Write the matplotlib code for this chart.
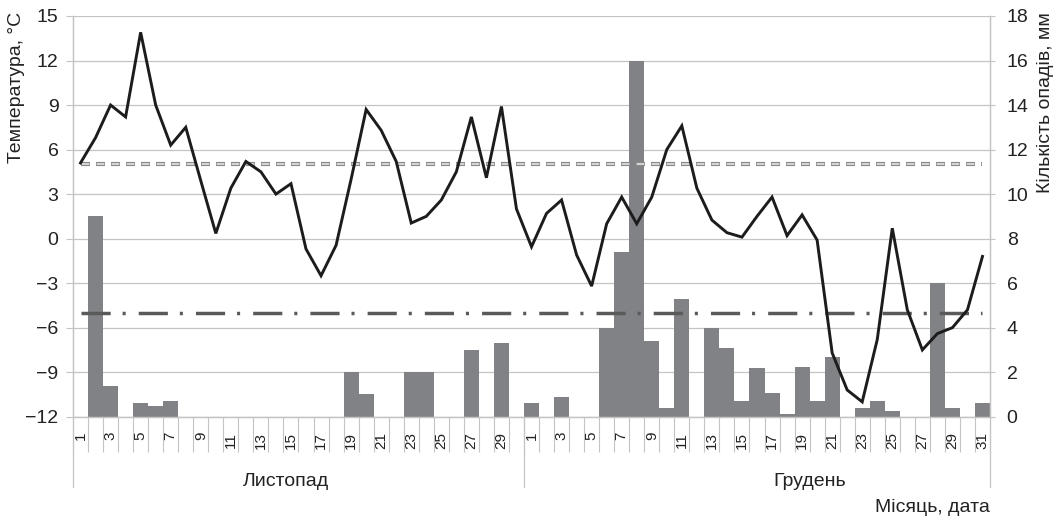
import numpy as np
import matplotlib
matplotlib.use("Agg")
import matplotlib.pyplot as plt

plt.rcParams['font.family'] = ['Liberation Sans', 'DejaVu Sans']
plt.rcParams['lines.scale_dashes'] = False

# дні місяців
days_nov = list(range(1, 31))
days_dec = list(range(1, 32))

# середньодобова температура, °C
temp_nov = [5.1, 6.8, 9.0, 8.2, 13.9, 9.0, 6.3, 7.5, 3.9, 0.35,
            3.4, 5.2, 4.5, 3.0, 3.7, -0.7, -2.5, -0.45, 4.0, 8.7,
            7.3, 5.2, 1.05, 1.5, 2.6, 4.5, 8.2, 4.1, 8.9, 2.0]
temp_dec = [-0.55, 1.7, 2.6, -1.1, -3.2, 1.0, 2.8, 1.0, 2.8, 6.0,
            7.6, 3.4, 1.25, 0.4, 0.1, 1.5, 2.8, 0.2, 1.6, -0.1,
            -7.7, -10.2, -11.0, -6.8, 0.7, -4.8, -7.5, -6.4, -6.0, -4.8,
            -1.2]

# кількість опадів, мм
precip_nov = [0, 9.0, 1.4, 0, 0.6, 0.5, 0.7, 0, 0, 0,
              0, 0, 0, 0, 0, 0, 0, 0, 2.0, 1.0,
              0, 0, 2.0, 2.0, 0, 0, 3.0, 0, 3.3, 0]
precip_dec = [0.6, 0, 0.9, 0, 0, 4.0, 7.4, 16.0, 3.4, 0.4,
              5.3, 0, 4.0, 3.1, 0.7, 2.2, 1.05, 0.1, 2.25, 0.7,
              2.7, 0, 0.37, 0.7, 0.25, 0, 0, 6.0, 0.37, 0,
              0.6]

# опорні рівні температури
level_upper = 5.0
level_lower = -5.0

months = ['Листопад', 'Грудень']

days = days_nov + days_dec
temp = temp_nov + temp_dec
precip = precip_nov + precip_dec
n = len(days)
x = np.arange(n)

fig = plt.figure(figsize=(10.61, 5.21), dpi=100)
fig.subplots_adjust(left=73/1061, right=990/1061, bottom=1-416.7/521, top=1-16/521)
ax = fig.add_subplot(111)
ax2 = ax.twinx()

grid_c = '#c4c4c4'

# опади - стовпчики на правій осі
ax2.bar(x, precip, width=1.0, color='#808285', zorder=2)
ax2.set_ylim(0, 18)
ax2.set_yticks(np.arange(0, 19, 2))
ax2.grid(axis='y', color=grid_c, linewidth=0.9, zorder=0)
ax2.set_axisbelow(True)
ax2.tick_params(axis='y', length=3.6, color=grid_c, pad=8.4, labelsize=14, labelcolor='#222222')

# температура - лінія на лівій осі
ax.set_zorder(ax2.get_zorder() + 1)
ax.patch.set_visible(False)
ax.plot([x[0], x[-1]], [level_upper, level_upper], color='#8a8a8a', lw=3.0,
        linestyle=(0, (6.5, 4.3)), solid_capstyle='butt')
ax.plot([x[0], x[-1]], [level_upper, level_upper], color='#e2e2e2', lw=1.2,
        linestyle=(10.3, (5.5, 5.3)))
ax.plot([x[0], x[-1]], [level_lower, level_lower], color='#5a5a5a', lw=2.5,
        linestyle=(0, (21, 8.6, 2.2, 9.4)))
ax.plot(x, temp, color='#1c1c1c', lw=2.1, solid_joinstyle='miter')

ax.set_ylim(-12, 15)
ax.set_yticks(np.arange(-12, 16, 3))
ax.tick_params(axis='y', length=5, color=grid_c, pad=5.5, labelsize=14, labelcolor='#222222')
ax.set_xlim(-0.5, n - 0.5)

# підписи днів
ax.set_xticks(np.arange(-0.5, n, 1.0))
ax.set_xticklabels([])
ax.tick_params(axis='x', which='major', length=25, width=0.8, color=grid_c, direction='out')
ax.set_xticks(x[::2], [str(d) for d in days[::2]], minor=True)
ax.tick_params(axis='x', which='minor', length=0, pad=11, labelsize=11,
               labelrotation=90, labelcolor='#222222')

for a in (ax, ax2):
    a.spines['top'].set_visible(False)
    for s in ('left', 'right', 'bottom'):
        a.spines[s].set_color(grid_c)
        a.spines[s].set_linewidth(0.9)

# розділювачі місяців
for b in (-0.5, len(days_nov) - 0.5, n - 0.5):
    ax.plot([b, b], [0, -0.1755], color=grid_c, lw=0.9,
            transform=ax.get_xaxis_transform(), clip_on=False)

fig.text(286/1061, 1-481/521, months[0], ha='center', va='center', fontsize=14, color='#222222')
fig.text(810/1061, 1-481/521, months[1], ha='center', va='center', fontsize=14, color='#222222')
fig.text(990/1061, 1-508/521, 'Місяць, дата', ha='right', va='center', fontsize=14, color='#222222')
fig.text(17/1061, 1-12/521, 'Температура, °C', rotation=90, ha='center', va='top',
         fontsize=14, color='#222222')
fig.text(1045/1061, 1-12/521, 'Кількість опадів, мм', rotation=90, ha='center', va='top',
         fontsize=14, color='#222222')

fig.savefig('out.png', dpi=100, facecolor='white')
